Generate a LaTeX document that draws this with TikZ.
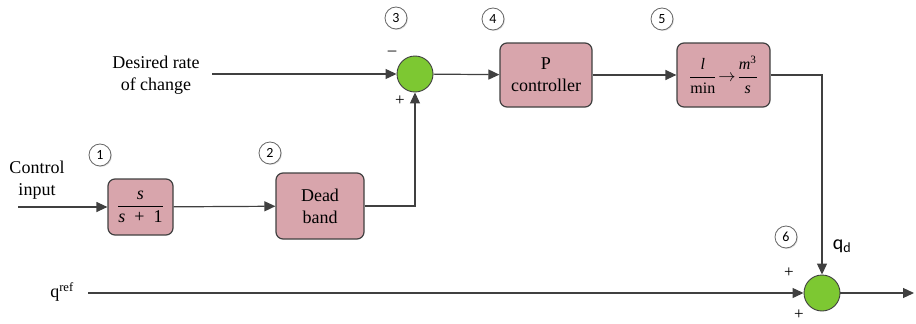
\documentclass[tikz,border=0pt]{standalone}
\usepackage{amsmath}
\usepackage{fontspec}
\setmainfont{LiberationSerif}[Extension=.ttf,UprightFont=*-Regular,ItalicFont=*-Italic,BoldFont=*-Bold,BoldItalicFont=*-BoldItalic]
\newfontfamily\tagfont{Carlito}
\usepackage{tikz}
\usetikzlibrary{arrows.meta,positioning,shadows}
\definecolor{wirecol}{RGB}{64,64,64}
\definecolor{boxfill}{RGB}{216,165,172}
\definecolor{sumfill}{RGB}{125,200,50}
\tikzset{
    blk/.style={
        draw=wirecol,
        fill=boxfill,
        line width=1.2pt,
        rounded corners=7pt,
        align=center,
        inner sep=0pt,
        font=\fontsize{18}{22}\selectfont
    },
    sumpt/.style={
        circle,
        draw=wirecol,
        fill=sumfill,
        line width=0.9pt,
        minimum size=36pt,
        inner sep=0pt
    },
    tag/.style={
        circle,
        draw=wirecol!80,
        fill=white,
        line width=0.8pt,
        minimum size=22pt,
        inner sep=0pt,
        drop shadow={opacity=0.25,shadow xshift=1pt,shadow yshift=-1pt},
        font=\tagfont\fontsize{14}{14}\selectfont
    },
    arrow/.style={
        -{Triangle[length=11pt,width=10pt]},
        draw=wirecol,
        line width=1.2pt
    },
    lbl/.style={align=center,font=\fontsize{18}{22}\selectfont},
    sgn/.style={font=\fontsize{17}{17}\selectfont}
}

\begin{document}
\begin{tikzpicture}[x=1pt,y=-1pt]
\useasboundingbox (0,0) rectangle (916,324);

% blocks
\node[blk, minimum width=65pt, minimum height=56pt] (tf) at (140.5,207)
    {$\dfrac{\textit{s}}{\text{\textit{s}\ \ +\ \ 1}}$};
\node[blk, minimum width=88pt, minimum height=66pt] (db) at (320,206) {Dead\\band};
\node[blk, minimum width=92pt, minimum height=64pt] (pc) at (546,75) {P\\controller};
\node[blk, minimum width=93pt, minimum height=64pt, font=\fontsize{16}{18}\selectfont] (conv) at (723.5,75)
    {$\dfrac{\textit{l}}{\text{min}}\!\rightarrow\!\dfrac{\textit{m}^{\text{3}}}{\textit{s}}$};
\node[sumpt] (s1) at (415,74) {};
\node[sumpt] (s2) at (822,293) {};

% numbers
\node[tag] (t1) at (100,155) {1};
\node[tag] (t2) at (270,153) {2};
\node[tag] (t3) at (396,18) {3};
\node[tag] (t4) at (493,19) {4};
\node[tag] (t5) at (662,19) {5};
\node[tag] (t6) at (786,237) {6};

% inputs and outputs
\node[lbl] (cin) at (37,180) {Control\\input};
\node[lbl] (rate) at (156,75) {Desired rate\\of change};
\node[lbl] (qref) at (62,292) {q\textsuperscript{ref}};
\node[font=\tagfont\fontsize{20}{20}\selectfont] (qd) at (842,246) {q\textsubscript{d}};
\coordinate (cinend) at (18,207);
\coordinate (rateend) at (212,74);
\coordinate (qrefend) at (88,293);
\coordinate (outend) at (914,293);

% signs
\node[sgn] (m1) at (392,53) {–};
\node[sgn] (p1) at (400,101) {+};
\node[sgn] (p2) at (789,273) {+};
\node[sgn] (p3) at (799,315) {+};

% wires
\draw[arrow] (cinend) -- (tf);
\draw[arrow] (tf) -- (db);
\draw[arrow] (db.east) -| (s1.south);
\draw[arrow] (rateend) -- (s1);
\draw[arrow] (s1) -- (pc);
\draw[arrow] (pc) -- (conv);
\draw[arrow] (conv.east) -| (s2.north);
\draw[arrow] (qrefend) -- (s2);
\draw[arrow] (s2) -- (outend);

\end{tikzpicture}
\end{document}
